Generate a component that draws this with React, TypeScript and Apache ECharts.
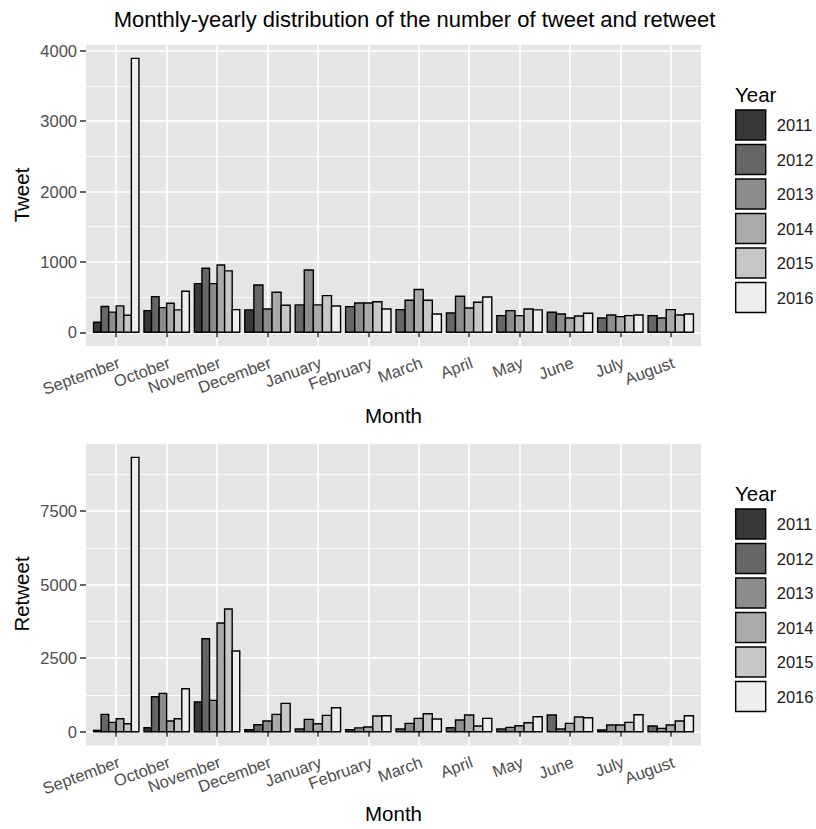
import React, { useEffect, useRef } from 'react';
import * as echarts from 'echarts';

const months = ['September', 'October', 'November', 'December', 'January', 'February', 'March', 'April', 'May', 'June', 'July', 'August'];
const years = ['2011', '2012', '2013', '2014', '2015', '2016'];

const tweet2011 = [143, 308, 692, 318, null, null, null, null, null, null, null, null];
const tweet2012 = [367, 507, 910, 673, 389, 365, 322, 275, 237, 284, 204, 237];
const tweet2013 = [286, 351, 692, 332, 886, 417, 455, 512, 308, 261, 246, 204];
const tweet2014 = [376, 412, 957, 569, 389, 417, 607, 346, 237, 204, 223, 322];
const tweet2015 = [243, 318, 872, 384, 521, 435, 455, 427, 332, 232, 237, 246];
const tweet2016 = [3891, 583, 322, null, 374, 332, 261, 502, 318, 270, 246, 261];

const retweet2011 = [45, 136, 1008, 68, null, null, null, null, null, null, null, null];
const retweet2012 = [589, 1190, 3161, 238, 91, 68, 91, 136, 91, 566, 57, 193];
const retweet2013 = [317, 1303, 1065, 363, 419, 130, 283, 397, 147, 91, 227, 113];
const retweet2014 = [442, 363, 3693, 589, 272, 160, 453, 566, 204, 283, 227, 227];
const retweet2015 = [272, 442, 4169, 963, 555, 532, 612, 193, 306, 498, 317, 363];
const retweet2016 = [9324, 1461, 2742, null, 816, 544, 430, 453, 510, 476, 578, 544];

const tweetTicks = [0, 1000, 2000, 3000, 4000];
const tweetMinor = [500, 1500, 2500, 3500];
const retweetTicks = [0, 2500, 5000, 7500];
const retweetMinor = [1250, 3750, 6250, 8750];

const yearColors = ['#383838', '#666666', '#8c8c8c', '#aaaaaa', '#c7c7c7', '#eeeeee'];

const FONT = '"Liberation Sans", Arial, Helvetica, sans-serif';
const PANEL_BG = '#e5e5e5';

type Val = number | null;

function buildData(byYear: Val[][]) {
  const out: number[][][] = byYear.map(() => []);
  for (let m = 0; m < months.length; m++) {
    const present: number[] = [];
    byYear.forEach((arr, yi) => {
      if (arr[m] !== null && arr[m] !== undefined) present.push(yi);
    });
    present.forEach((yi, slot) => {
      out[yi].push([m + 1, slot, present.length, byYear[yi][m] as number]);
    });
  }
  return out;
}

const renderBar = (params: any, api: any) => {
  const m = api.value(0);
  const slot = api.value(1);
  const n = api.value(2);
  const v = api.value(3);
  const base = api.coord([m, 0]);
  const top = api.coord([m, v]);
  const band = api.size([1, 0])[0];
  const gw = band * 0.9;
  const w = gw / n;
  const x = base[0] - gw / 2 + slot * w;
  return {
    type: 'rect',
    shape: { x, y: top[1], width: w, height: base[1] - top[1] },
    style: { fill: api.visual('color'), stroke: '#000', lineWidth: 1.4 },
  };
};

export default function App() {
  const ref = useRef<HTMLDivElement>(null);

  useEffect(() => {
    if (!ref.current) return;
    const chart = echarts.init(ref.current, null, { renderer: 'svg' });

    const tweetByYear = [tweet2011, tweet2012, tweet2013, tweet2014, tweet2015, tweet2016];
    const retweetByYear = [retweet2011, retweet2012, retweet2013, retweet2014, retweet2015, retweet2016];
    const tweetData = buildData(tweetByYear);
    const retweetData = buildData(retweetByYear);

    const tMax = Math.max(...(tweetByYear.flat().filter((v) => v !== null) as number[]));
    const rMax = Math.max(...(retweetByYear.flat().filter((v) => v !== null) as number[]));

    const left = 86;
    const width = 615;
    const grids = [
      { left, top: 44.7, width, height: 301.3 },
      { left, top: 443.7, width, height: 301.7 },
    ];

    const xAxisFor = (gi: number) => ({
      type: 'value',
      gridIndex: gi,
      min: 0.4,
      max: 12.6,
      axisLine: { show: false },
      axisTick: {
        show: true,
        length: 5,
        customValues: months.map((_, i) => i + 1),
        lineStyle: { color: '#333333', width: 1.5 },
      },
      axisLabel: {
        show: true,
        customValues: months.map((_, i) => i + 1),
        formatter: (v: number) => months[Math.round(v) - 1] || '',
        rotate: 20,
        align: 'right',
        verticalAlign: 'top',
        margin: 8,
        fontSize: 16.5,
        lineHeight: 16.5,
        color: '#4d4d4d',
        fontFamily: FONT,
      },
      splitLine: { show: true, lineStyle: { color: '#ffffff', width: 1.6 } },
    });

    const yMain = (gi: number, max: number, ticks: number[]) => ({
      type: 'value',
      gridIndex: gi,
      min: -max * 0.05,
      max: max * 1.05,
      axisLine: { show: false },
      axisTick: {
        show: true,
        length: 6,
        customValues: ticks,
        lineStyle: { color: '#333333', width: 1.5 },
      },
      axisLabel: {
        show: true,
        customValues: ticks,
        formatter: (v: number) => String(v),
        margin: 9,
        fontSize: 16.5,
        color: '#4d4d4d',
        fontFamily: FONT,
      },
      splitLine: { show: true, lineStyle: { color: '#ffffff', width: 1.6 } },
    });

    const yMinor = (gi: number, max: number, ticks: number[]) => ({
      type: 'value',
      gridIndex: gi,
      min: -max * 0.05,
      max: max * 1.05,
      position: 'left',
      axisLine: { show: false },
      axisTick: { show: false, customValues: ticks },
      axisLabel: { show: false },
      splitLine: { show: true, lineStyle: { color: '#ffffff', width: 0.8 } },
    });

    const seriesFor = (data: number[][][], gi: number, yi: number) =>
      years.map((name, i) => ({
        type: 'custom',
        name,
        xAxisIndex: gi,
        yAxisIndex: yi,
        renderItem: renderBar,
        itemStyle: { color: yearColors[i] },
        encode: { x: 0, y: 3 },
        data: data[i],
        z: 5,
      }));

    const legendFor = (top: number) => ({
      orient: 'vertical',
      left: 735,
      top,
      itemWidth: 30,
      itemHeight: 30,
      itemGap: 3.1,
      padding: 0,
      selectedMode: false,
      data: years.map((name) => ({ name, icon: 'rect' })),
      itemStyle: { borderColor: '#000000', borderWidth: 1.4 },
      textStyle: { fontSize: 16.5, color: '#1a1a1a', fontFamily: FONT, padding: [0, 0, 0, 6] },
    });

    const textEl = (text: string, x: number, y: number, size: number, rotation = 0, align = 'center') => ({
      type: 'text',
      x,
      y,
      rotation,
      style: {
        text,
        fontSize: size,
        fontFamily: FONT,
        fill: '#000000',
        align,
        verticalAlign: 'middle',
      },
    });

    chart.setOption({
      animation: false,
      backgroundColor: '#ffffff',
      grid: grids.map((g) => ({ ...g, show: true, backgroundColor: PANEL_BG, borderWidth: 0, containLabel: false })),
      xAxis: [xAxisFor(0), xAxisFor(1)],
      yAxis: [yMain(0, tMax, tweetTicks), yMinor(0, tMax, tweetMinor), yMain(1, rMax, retweetTicks), yMinor(1, rMax, retweetMinor)],
      legend: [legendFor(109.3), legendFor(508.3)],
      graphic: [
        textEl('Monthly-yearly distribution of the number of tweet and retweet', 414.5, 19, 22),
        textEl('Month', 393.5, 415, 20.5),
        textEl('Month', 393.5, 813, 20.5),
        textEl('Tweet', 21, 195, 20.5, Math.PI / 2),
        textEl('Retweet', 21, 594, 20.5, Math.PI / 2),
        textEl('Year', 735, 94, 20.5, 0, 'left'),
        textEl('Year', 735, 493, 20.5, 0, 'left'),
      ],
      series: [...seriesFor(tweetData, 0, 0), ...seriesFor(retweetData, 1, 2)],
    });

    return () => {
      chart.dispose();
    };
  }, []);

  return (
    <div
      ref={ref}
      style={{ position: 'fixed', left: 0, top: 0, width: 816, height: 829, background: '#ffffff' }}
    />
  );
}
